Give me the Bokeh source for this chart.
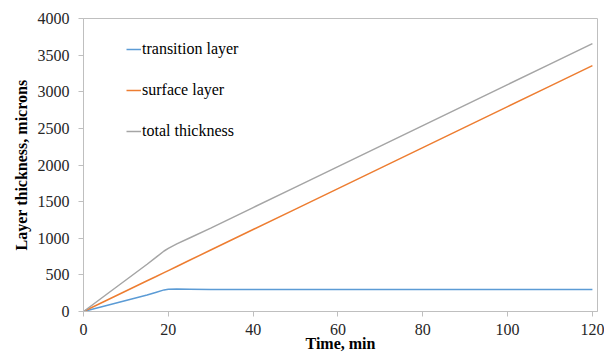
from bokeh.plotting import figure
from bokeh.models import Range1d, FixedTicker, Legend, LegendItem
from bokeh.embed import file_html
from bokeh.resources import INLINE

# Time in minutes and layer thickness in microns
time_min = [0, 5, 10, 15, 17, 19, 20, 22, 25, 30, 40, 50, 60, 70, 80, 90, 100, 110, 120]
transition_layer = [0, 75, 150, 225, 260, 295, 303, 308, 305, 300, 300, 300, 300, 300, 300, 300, 300, 300, 300]
surface_layer = [0, 140, 280, 420, 475, 531, 559, 615, 699, 839, 1119, 1398, 1678, 1958, 2238, 2517, 2797, 3077, 3357]
total_thickness = [0, 215, 430, 645, 735, 826, 862, 923, 1004, 1139, 1419, 1698, 1978, 2258, 2538, 2817, 3097, 3377, 3657]

x_ticks = [0, 20, 40, 60, 80, 100, 120]
y_ticks = [0, 500, 1000, 1500, 2000, 2500, 3000, 3500, 4000]

TITLE_FONT = "Times New Roman"
TEXT_FONT = "serif"
AXIS_GREY = "#bfbfbf"

p = figure(width=604, height=358, output_backend="svg", toolbar_location=None,
           x_range=Range1d(0, 121.2), y_range=Range1d(0, 4000),
           min_border_left=83, min_border_right=7, min_border_top=18, min_border_bottom=47)

p.xgrid.visible = False
p.ygrid.visible = False
p.outline_line_color = AXIS_GREY

l1 = p.line(time_min, transition_layer, line_color="#5b9bd5", line_width=1.5)
l2 = p.line(time_min, surface_layer, line_color="#ed7d31", line_width=1.5)
l3 = p.line(time_min, total_thickness, line_color="#a5a5a5", line_width=1.5)

p.axis.axis_line_color = AXIS_GREY
p.axis.major_tick_line_color = AXIS_GREY
p.axis.major_tick_out = 5
p.axis.major_tick_in = 0
p.axis.minor_tick_line_color = None
p.axis.major_label_text_font = TEXT_FONT
p.axis.major_label_text_font_size = "16px"
p.axis.major_label_text_color = "#262626"
p.axis.axis_label_text_font = TITLE_FONT
p.axis.axis_label_text_font_size = "16px"
p.axis.axis_label_text_font_style = "bold"
p.axis.axis_label_text_color = "black"

p.xaxis.ticker = FixedTicker(ticks=x_ticks)
p.yaxis.ticker = FixedTicker(ticks=y_ticks)
p.xaxis.axis_label = "Time, min"
p.yaxis.axis_label = "Layer thickness, microns"
p.xaxis.major_label_standoff = 7
p.yaxis.major_label_standoff = 9
p.xaxis.axis_label_standoff = -3
p.yaxis.axis_label_standoff = 5

legend = Legend(items=[
    LegendItem(label="transition layer", renderers=[l1]),
    LegendItem(label="surface layer", renderers=[l2]),
    LegendItem(label="total thickness", renderers=[l3]),
], location=(43, 170))
legend.label_text_font = TEXT_FONT
legend.label_text_font_size = "16px"
legend.label_text_color = "black"
legend.border_line_color = None
legend.background_fill_alpha = 0
legend.margin = 0
legend.padding = 0
legend.spacing = 21
legend.glyph_width = 15
legend.glyph_height = 20
legend.label_height = 20
legend.label_standoff = 1
p.add_layout(legend)

open("out.html", "w").write(file_html(p, INLINE))
